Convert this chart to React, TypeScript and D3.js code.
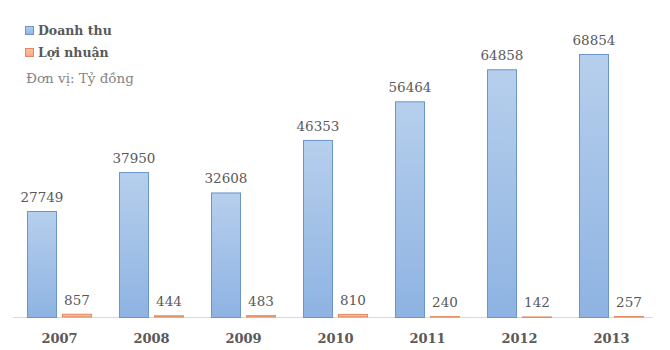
import React from "react";
import * as d3 from "d3";

const years = ["2007", "2008", "2009", "2010", "2011", "2012", "2013"];
const revenue = [27749, 37950, 32608, 46353, 56464, 64858, 68854];
const profit = [857, 444, 483, 810, 240, 142, 257];
const legendLabels = ["Doanh thu", "Lợi nhuận"];
const unitLabel = "Đơn vị: Tỷ đồng";

const W = 670;
const H = 350;
const FONT = "DejaVu Serif, Liberation Serif, serif";

export default function App() {
  const x = d3.scaleBand<string>().domain(years).range([13.5, 657.5]).paddingInner(0).paddingOuter(0);
  const y = d3.scaleLinear().domain([0, 68854]).range([317, 54]);
  const bw = 30;
  const gap = 2.5;
  const center = (yr: string) => (x(yr) as number) + x.bandwidth() / 2;

  return (
    <svg width={W} height={H} style={{ position: "absolute", left: 0, top: 0, fontFamily: FONT }}>
      <defs>
        <linearGradient id="gBlue" x1="0" y1="0" x2="0" y2="1">
          <stop offset="0" stopColor="#b6cfec" />
          <stop offset="1" stopColor="#8eb3e2" />
        </linearGradient>
        <linearGradient id="gOrange" x1="0" y1="0" x2="0" y2="1">
          <stop offset="0" stopColor="#fbc3a6" />
          <stop offset="1" stopColor="#f7a982" />
        </linearGradient>
      </defs>
      <rect width={W} height={H} fill="#ffffff" />
      <line x1={13} x2={653} y1={317.5} y2={317.5} stroke="#d9d9d9" strokeWidth={1} />
      {years.map((yr, i) => {
        const c = center(yr);
        const yb = y(revenue[i]);
        const yo = y(profit[i]);
        return (
          <g key={yr}>
            <rect x={c - gap - bw + 0.5} y={yb + 0.5} width={bw - 1} height={317 - yb} fill="url(#gBlue)" stroke="#6a95c9" strokeWidth={1} />
            <rect x={c + gap + 0.5} y={yo + 0.5} width={bw - 1} height={Math.max(317 - yo - 0.5, 0.5)} fill="url(#gOrange)" stroke="#e3895e" strokeWidth={1} />
            <text x={c - gap - bw / 2} y={yb - 9} textAnchor="middle" style={{ fontFamily: FONT, fontSize: 13.5 }} fill="#595959">
              {revenue[i]}
            </text>
            <text x={c + gap + bw / 2} y={yo - 9} textAnchor="middle" style={{ fontFamily: FONT, fontSize: 13.5 }} fill="#595959">
              {profit[i]}
            </text>
            <text x={c} y={343} textAnchor="middle" style={{ fontFamily: FONT, fontSize: 13, fontWeight: "bold" }} fill="#595959">
              {yr}
            </text>
          </g>
        );
      })}
      <rect x={25.5} y={26.5} width={8} height={8} fill="url(#gBlue)" stroke="#6a95c9" />
      <text x={38} y={35} style={{ fontFamily: FONT, fontSize: 12.5, fontWeight: "bold" }} fill="#595959">{legendLabels[0]}</text>
      <rect x={25.5} y={48.5} width={8} height={8} fill="url(#gOrange)" stroke="#e3895e" />
      <text x={38} y={57} style={{ fontFamily: FONT, fontSize: 12.5, fontWeight: "bold" }} fill="#595959">{legendLabels[1]}</text>
      <text x={26} y={83} style={{ fontFamily: FONT, fontSize: 13.5 }} fill="#858585">{unitLabel}</text>
    </svg>
  );
}
